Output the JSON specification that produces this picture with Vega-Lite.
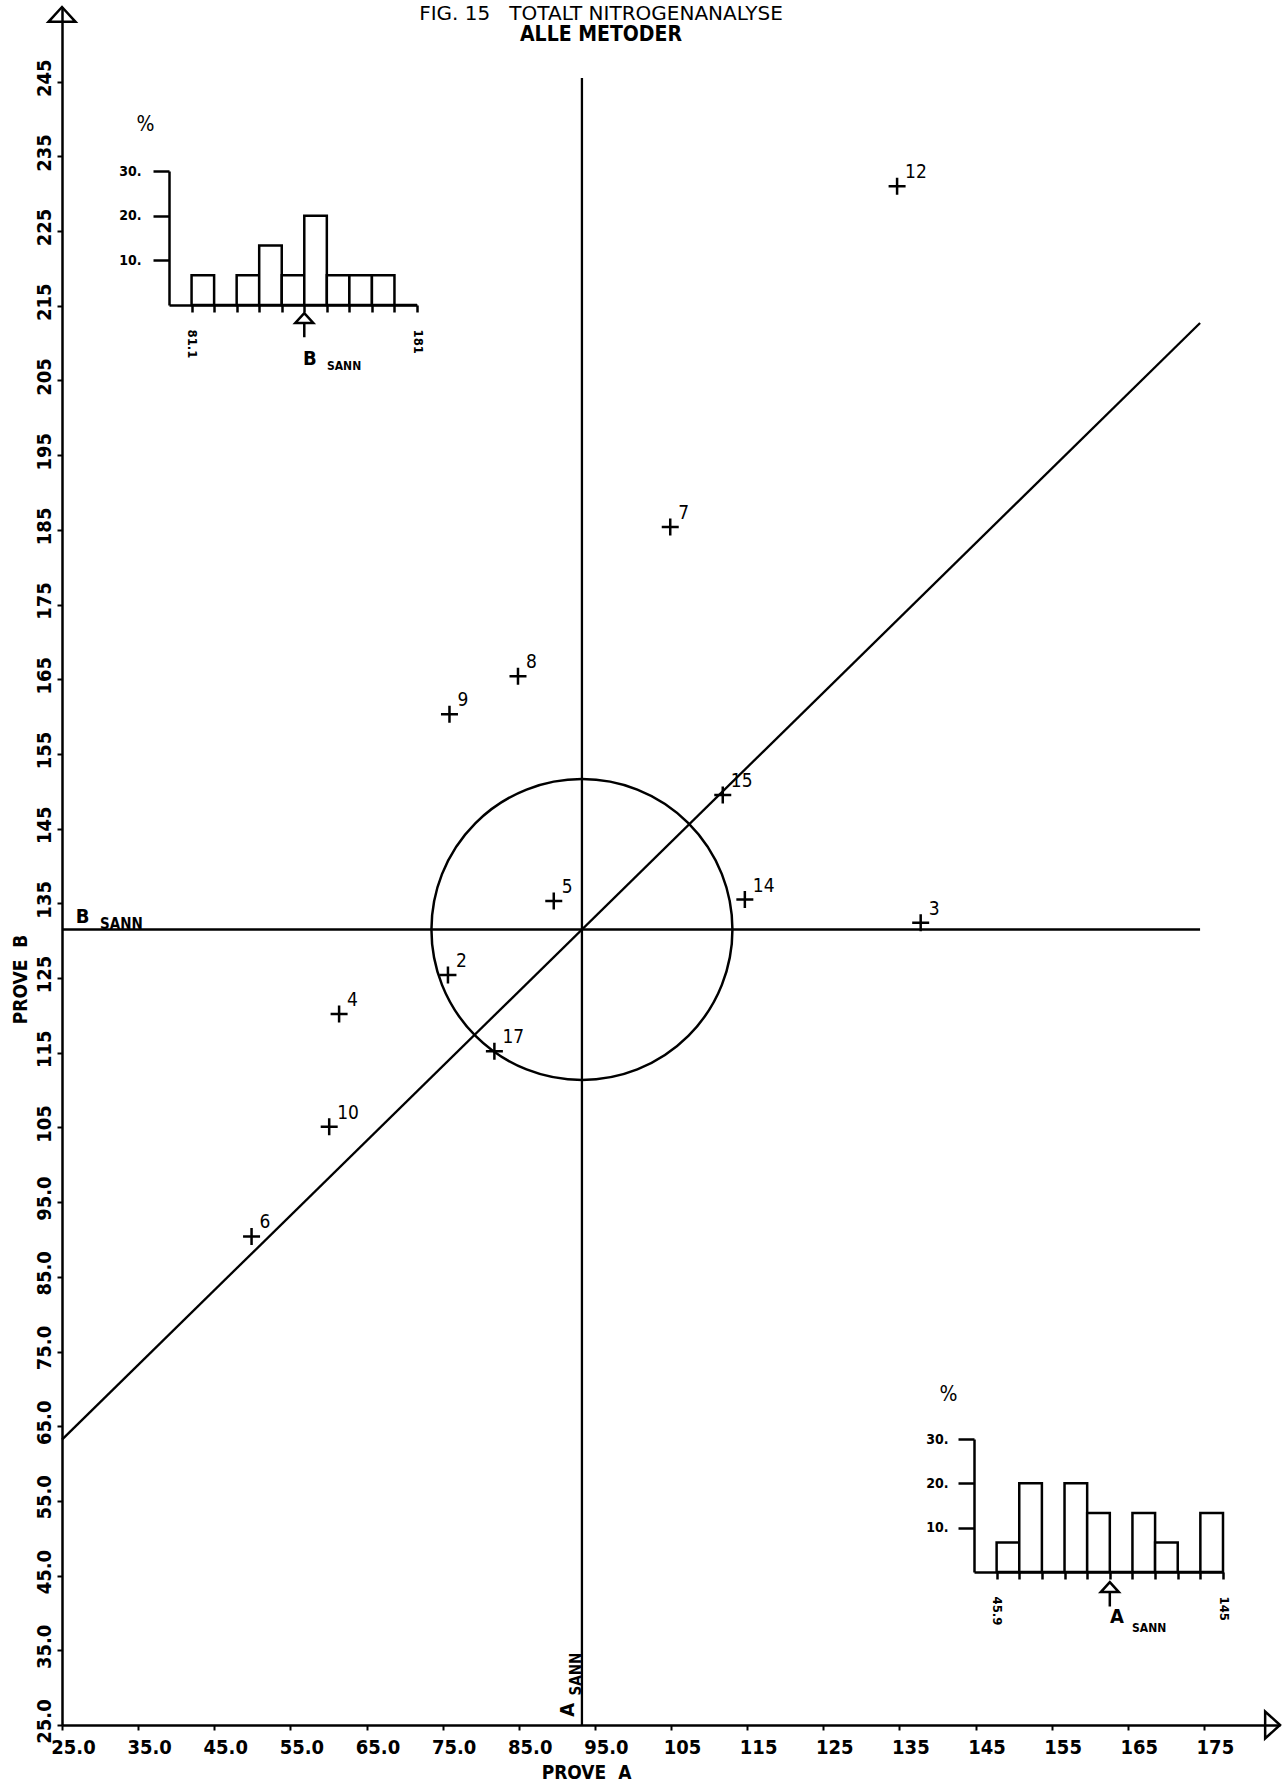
{
  "$schema": "https://vega.github.io/schema/vega-lite/v6.json",
  "width": 1218,
  "height": 1718,
  "autosize": {"type": "none"},
  "padding": {"left": 62, "top": 7, "right": 5, "bottom": 60},
  "background": "white",
  "config": {"view": {"stroke": null}, "font": "DejaVu Sans Condensed, DejaVu Sans, sans-serif"},
  "title": {
    "text": "FIG. 15\u00a0\u00a0\u00a0TOTALT NITROGENANALYSE",
    "subtitle": "ALLE METODER",
    "anchor": "middle",
    "offset": -43,
    "dx": -70,
    "font": "DejaVu Sans, sans-serif",
    "fontSize": 20,
    "fontWeight": "normal",
    "color": "black",
    "subtitleFont": "DejaVu Sans Condensed, DejaVu Sans, sans-serif",
    "subtitleFontSize": 21,
    "subtitleFontWeight": "bold",
    "subtitleColor": "black",
    "subtitlePadding": 0
  },
  "datasets": {
    "points": [
      {"lab": "12", "A": 134.7, "B": 231.0},
      {"lab": "7", "A": 104.9, "B": 185.4},
      {"lab": "8", "A": 84.9, "B": 165.4},
      {"lab": "9", "A": 75.9, "B": 160.3},
      {"lab": "15", "A": 111.8, "B": 149.5},
      {"lab": "5", "A": 89.6, "B": 135.3},
      {"lab": "14", "A": 114.7, "B": 135.5},
      {"lab": "3", "A": 137.8, "B": 132.4},
      {"lab": "2", "A": 75.7, "B": 125.4},
      {"lab": "4", "A": 61.4, "B": 120.2},
      {"lab": "17", "A": 81.8, "B": 115.2},
      {"lab": "10", "A": 60.1, "B": 105.1},
      {"lab": "6", "A": 49.9, "B": 90.4}
    ],
    "lines": [
      {"A": 93.3, "B": 25, "A2": 93.3, "B2": 245.5},
      {"A": 25, "B": 131.5, "A2": 174.5, "B2": 131.5},
      {"A": 25, "B": 63.2, "A2": 174.5, "B2": 212.7}
    ],
    "center": [{"A": 93.3, "B": 131.5}],
    "topEnd": [{"A": 25, "B": 255}],
    "rightEnd": [{"A": 185, "B": 25}],
    "bBig": [{"t": "B", "A": 26.8, "B": 132.4}],
    "bSmall": [{"t": "SANN", "A": 30.0, "B": 131.6}],
    "aBig": [{"t": "A", "A": 92.2, "B": 26.1}],
    "aSmall": [{"t": "SANN", "A": 93.2, "B": 28.95}],
    "histB": [
      {"lo": 81.1, "hi": 91.09, "pct": 6.67},
      {"lo": 91.09, "hi": 101.08, "pct": 0},
      {"lo": 101.08, "hi": 111.07, "pct": 6.67},
      {"lo": 111.07, "hi": 121.06, "pct": 13.33},
      {"lo": 121.06, "hi": 131.05, "pct": 6.67},
      {"lo": 131.05, "hi": 141.04, "pct": 20},
      {"lo": 141.04, "hi": 151.03, "pct": 6.67},
      {"lo": 151.03, "hi": 161.02, "pct": 6.67},
      {"lo": 161.02, "hi": 171.01, "pct": 6.67},
      {"lo": 171.01, "hi": 181, "pct": 0}
    ],
    "histA": [
      {"lo": 45.9, "hi": 55.81, "pct": 6.67},
      {"lo": 55.81, "hi": 65.72, "pct": 20},
      {"lo": 65.72, "hi": 75.63, "pct": 0},
      {"lo": 75.63, "hi": 85.54, "pct": 20},
      {"lo": 85.54, "hi": 95.45, "pct": 13.33},
      {"lo": 95.45, "hi": 105.36, "pct": 0},
      {"lo": 105.36, "hi": 115.27, "pct": 13.33},
      {"lo": 115.27, "hi": 125.18, "pct": 6.67},
      {"lo": 125.18, "hi": 135.09, "pct": 0},
      {"lo": 135.09, "hi": 145, "pct": 13.33}
    ],
    "arrowB": [{"lo": 131.05, "pct": -1.8}],
    "arrowA": [{"lo": 95.45, "pct": -2.3}],
    "labB": [{"t": "B", "lo": 130.5, "pct": -13.4}],
    "labBs": [{"t": "SANN", "lo": 141.1, "pct": -14.6}],
    "labA": [{"t": "A", "lo": 95.5, "pct": -11.5}],
    "labAs": [{"t": "SANN", "lo": 105.2, "pct": -13.5}]
  },
  "layer": [
    {
      "layer": [
        {
          "data": {"name": "lines"},
          "mark": {"type": "rule", "stroke": "black", "strokeWidth": 2.3},
          "encoding": {
            "x": {
              "field": "A", "type": "quantitative", "title": "PROVE\u00a0\u00a0A",
              "scale": {"domain": [25, 185], "nice": false, "zero": false},
              "axis": {
                "orient": "bottom",
                "values": [25, 35, 45, 55, 65, 75, 85, 95, 105, 115, 125, 135, 145, 155, 165, 175],
                "labelExpr": "datum.value < 100 ? format(datum.value, '.1f') : format(datum.value, 'd')",
                "labelOffset": 11, "labelPadding": 7, "labelBaseline": "top", "labelAlign": "center",
                "labelFontSize": 20, "labelFontWeight": "bold", "labelColor": "black",
                "labelOverlap": false, "labelFlush": false, "labelBound": false,
                "tickSize": 5, "tickWidth": 2, "tickColor": "black",
                "domainColor": "black", "domainWidth": 2.5, "grid": false,
                "title": "PROVE\u00a0\u00a0A", "titleX": 524, "titleY": 47, "titleAlign": "center", "titleBaseline": "middle",
                "titleFontSize": 19, "titleFontWeight": "bold", "titleColor": "black"
              }
            },
            "x2": {"field": "A2"},
            "y": {
              "field": "B", "type": "quantitative", "title": "PROVE\u00a0\u00a0B",
              "scale": {"domain": [25, 255], "nice": false, "zero": false},
              "axis": {
                "orient": "left",
                "values": [25, 35, 45, 55, 65, 75, 85, 95, 105, 115, 125, 135, 145, 155, 165, 175, 185, 195, 205, 215, 225, 235, 245],
                "labelExpr": "datum.value < 100 ? format(datum.value, '.1f') : format(datum.value, 'd')",
                "labelAngle": 270, "labelAlign": "center", "labelBaseline": "alphabetic",
                "labelOffset": -4, "labelPadding": 7,
                "labelFontSize": 20, "labelFontWeight": "bold", "labelColor": "black",
                "labelOverlap": false, "labelFlush": false, "labelBound": false,
                "tickSize": 5, "tickWidth": 2, "tickColor": "black",
                "domainColor": "black", "domainWidth": 2.5, "grid": false,
                "title": "PROVE\u00a0\u00a0B", "titleX": -42, "titleY": 972, "titleAngle": 270,
                "titleAlign": "center", "titleBaseline": "middle",
                "titleFontSize": 19, "titleFontWeight": "bold", "titleColor": "black"
              }
            },
            "y2": {"field": "B2"}
          }
        },
        {
          "data": {"name": "center"},
          "mark": {"type": "point", "shape": "circle", "filled": false, "stroke": "black", "strokeWidth": 2.5, "size": 90601, "opacity": 1},
          "encoding": {
            "x": {"field": "A", "type": "quantitative", "title": "PROVE\u00a0\u00a0A"},
            "y": {"field": "B", "type": "quantitative", "title": "PROVE\u00a0\u00a0B"}
          }
        },
        {
          "data": {"name": "points"},
          "mark": {"type": "point", "shape": "M-1,0L1,0M0,-1L0,1", "filled": false, "stroke": "black", "strokeWidth": 2.5, "size": 289, "opacity": 1},
          "encoding": {
            "x": {"field": "A", "type": "quantitative", "title": "PROVE\u00a0\u00a0A"},
            "y": {"field": "B", "type": "quantitative", "title": "PROVE\u00a0\u00a0B"}
          }
        },
        {
          "data": {"name": "points"},
          "mark": {"type": "text", "align": "left", "baseline": "alphabetic", "dx": 8, "dy": -8, "fontSize": 19, "color": "black"},
          "encoding": {
            "x": {"field": "A", "type": "quantitative", "title": "PROVE\u00a0\u00a0A"},
            "y": {"field": "B", "type": "quantitative", "title": "PROVE\u00a0\u00a0B"},
            "text": {"field": "lab"}
          }
        },
        {
          "data": {"name": "topEnd"},
          "mark": {"type": "point", "shape": "M0,0L1,1.1L-1,1.1Z", "filled": false, "stroke": "black", "strokeWidth": 2.5, "size": 729, "opacity": 1},
          "encoding": {
            "x": {"field": "A", "type": "quantitative", "title": "PROVE\u00a0\u00a0A"},
            "y": {"field": "B", "type": "quantitative", "title": "PROVE\u00a0\u00a0B"}
          }
        },
        {
          "data": {"name": "rightEnd"},
          "mark": {"type": "point", "shape": "M0,0L-1.1,-1L-1.1,1Z", "filled": false, "stroke": "black", "strokeWidth": 2.5, "size": 729, "opacity": 1},
          "encoding": {
            "x": {"field": "A", "type": "quantitative", "title": "PROVE\u00a0\u00a0A"},
            "y": {"field": "B", "type": "quantitative", "title": "PROVE\u00a0\u00a0B"}
          }
        },
        {
          "data": {"name": "bBig"},
          "mark": {"type": "text", "align": "left", "baseline": "alphabetic", "fontSize": 20, "fontWeight": "bold", "color": "black"},
          "encoding": {
            "x": {"field": "A", "type": "quantitative", "title": "PROVE\u00a0\u00a0A"},
            "y": {"field": "B", "type": "quantitative", "title": "PROVE\u00a0\u00a0B"},
            "text": {"field": "t"}
          }
        },
        {
          "data": {"name": "bSmall"},
          "mark": {"type": "text", "align": "left", "baseline": "alphabetic", "fontSize": 15, "fontWeight": "bold", "color": "black"},
          "encoding": {
            "x": {"field": "A", "type": "quantitative", "title": "PROVE\u00a0\u00a0A"},
            "y": {"field": "B", "type": "quantitative", "title": "PROVE\u00a0\u00a0B"},
            "text": {"field": "t"}
          }
        },
        {
          "data": {"name": "aBig"},
          "mark": {"type": "text", "align": "left", "baseline": "alphabetic", "angle": 270, "fontSize": 20, "fontWeight": "bold", "color": "black"},
          "encoding": {
            "x": {"field": "A", "type": "quantitative", "title": "PROVE\u00a0\u00a0A"},
            "y": {"field": "B", "type": "quantitative", "title": "PROVE\u00a0\u00a0B"},
            "text": {"field": "t"}
          }
        },
        {
          "data": {"name": "aSmall"},
          "mark": {"type": "text", "align": "left", "baseline": "alphabetic", "angle": 270, "fontSize": 15, "fontWeight": "bold", "color": "black"},
          "encoding": {
            "x": {"field": "A", "type": "quantitative", "title": "PROVE\u00a0\u00a0A"},
            "y": {"field": "B", "type": "quantitative", "title": "PROVE\u00a0\u00a0B"},
            "text": {"field": "t"}
          }
        }
      ]
    },
    {
      "layer": [
        {
          "data": {"name": "histB"},
          "mark": {"type": "rect", "fill": "white", "stroke": "black", "strokeWidth": 2.5},
          "encoding": {
            "x": {
              "field": "lo", "type": "quantitative",
              "scale": {"domain": [71.1, 181], "range": [107, 355], "nice": false, "zero": false},
              "axis": {
                "orient": "bottom", "offset": -1420, "title": null, "grid": false,
                "values": [81.1, 91.09, 101.08, 111.07, 121.06, 131.05, 141.04, 151.03, 161.02, 171.01, 181],
                "labelExpr": "datum.value == 81.1 ? '81.1' : (datum.value == 181 ? '181' : '')",
                "labelAngle": 90, "labelAlign": "left", "labelBaseline": "middle", "labelPadding": 17,
                "labelFontSize": 13, "labelFontWeight": "bold", "labelColor": "black",
                "labelOverlap": false, "labelFlush": false, "labelBound": false,
                "tickSize": 7, "tickWidth": 2.5, "tickColor": "black",
                "domainColor": "black", "domainWidth": 2.5
              }
            },
            "x2": {"field": "hi"},
            "y": {
              "field": "pct", "type": "quantitative",
              "scale": {"domain": [0, 30], "range": [298, 164], "nice": false, "zero": false},
              "axis": {
                "orient": "left", "offset": -107, "grid": false,
                "values": [10, 20, 30],
                "labelExpr": "datum.value + '.'",
                "labelAlign": "right", "labelBaseline": "middle", "labelPadding": 12,
                "labelFontSize": 14, "labelFontWeight": "bold", "labelColor": "black",
                "labelOverlap": false, "labelFlush": false, "labelBound": false,
                "tickSize": 16, "tickWidth": 2.5, "tickColor": "black",
                "domainColor": "black", "domainWidth": 2.5,
                "title": "%", "titleAngle": 0, "titleX": -24, "titleY": 123, "titleAlign": "center", "titleBaseline": "alphabetic",
                "titleFontSize": 21, "titleFontWeight": "normal", "titleColor": "black"
              }
            },
            "y2": {"datum": 0}
          }
        },
        {
          "data": {"name": "arrowB"},
          "mark": {"type": "point", "shape": "M0,0L1,1.1L-1,1.1ZM0,1.1L0,2.7", "filled": false, "stroke": "black", "strokeWidth": 2.5, "size": 324, "opacity": 1},
          "encoding": {
            "x": {"field": "lo", "type": "quantitative"},
            "y": {"field": "pct", "type": "quantitative"}
          }
        },
        {
          "data": {"name": "labB"},
          "mark": {"type": "text", "align": "left", "baseline": "alphabetic", "fontSize": 20, "fontWeight": "bold", "color": "black"},
          "encoding": {
            "x": {"field": "lo", "type": "quantitative"},
            "y": {"field": "pct", "type": "quantitative"},
            "text": {"field": "t"}
          }
        },
        {
          "data": {"name": "labBs"},
          "mark": {"type": "text", "align": "left", "baseline": "alphabetic", "fontSize": 12, "fontWeight": "bold", "color": "black"},
          "encoding": {
            "x": {"field": "lo", "type": "quantitative"},
            "y": {"field": "pct", "type": "quantitative"},
            "text": {"field": "t"}
          }
        }
      ]
    },
    {
      "layer": [
        {
          "data": {"name": "histA"},
          "mark": {"type": "rect", "fill": "white", "stroke": "black", "strokeWidth": 2.5},
          "encoding": {
            "x": {
              "field": "lo", "type": "quantitative",
              "scale": {"domain": [36, 145], "range": [912, 1161], "nice": false, "zero": false},
              "axis": {
                "orient": "bottom", "offset": -153, "title": null, "grid": false,
                "values": [45.9, 55.81, 65.72, 75.63, 85.54, 95.45, 105.36, 115.27, 125.18, 135.09, 145],
                "labelExpr": "datum.value == 45.9 ? '45.9' : (datum.value == 145 ? '145' : '')",
                "labelAngle": 90, "labelAlign": "left", "labelBaseline": "middle", "labelPadding": 17,
                "labelFontSize": 13, "labelFontWeight": "bold", "labelColor": "black",
                "labelOverlap": false, "labelFlush": false, "labelBound": false,
                "tickSize": 7, "tickWidth": 2.5, "tickColor": "black",
                "domainColor": "black", "domainWidth": 2.5
              }
            },
            "x2": {"field": "hi"},
            "y": {
              "field": "pct", "type": "quantitative",
              "scale": {"domain": [0, 30], "range": [1565, 1432], "nice": false, "zero": false},
              "axis": {
                "orient": "left", "offset": -912, "grid": false,
                "values": [10, 20, 30],
                "labelExpr": "datum.value + '.'",
                "labelAlign": "right", "labelBaseline": "middle", "labelPadding": 10,
                "labelFontSize": 14, "labelFontWeight": "bold", "labelColor": "black",
                "labelOverlap": false, "labelFlush": false, "labelBound": false,
                "tickSize": 16, "tickWidth": 2.5, "tickColor": "black",
                "domainColor": "black", "domainWidth": 2.5,
                "title": "%", "titleAngle": 0, "titleX": -26, "titleY": 1393, "titleAlign": "center", "titleBaseline": "alphabetic",
                "titleFontSize": 21, "titleFontWeight": "normal", "titleColor": "black"
              }
            },
            "y2": {"datum": 0}
          }
        },
        {
          "data": {"name": "arrowA"},
          "mark": {"type": "point", "shape": "M0,0L1,1.1L-1,1.1ZM0,1.1L0,2.7", "filled": false, "stroke": "black", "strokeWidth": 2.5, "size": 324, "opacity": 1},
          "encoding": {
            "x": {"field": "lo", "type": "quantitative"},
            "y": {"field": "pct", "type": "quantitative"}
          }
        },
        {
          "data": {"name": "labA"},
          "mark": {"type": "text", "align": "left", "baseline": "alphabetic", "fontSize": 20, "fontWeight": "bold", "color": "black"},
          "encoding": {
            "x": {"field": "lo", "type": "quantitative"},
            "y": {"field": "pct", "type": "quantitative"},
            "text": {"field": "t"}
          }
        },
        {
          "data": {"name": "labAs"},
          "mark": {"type": "text", "align": "left", "baseline": "alphabetic", "fontSize": 12, "fontWeight": "bold", "color": "black"},
          "encoding": {
            "x": {"field": "lo", "type": "quantitative"},
            "y": {"field": "pct", "type": "quantitative"},
            "text": {"field": "t"}
          }
        }
      ]
    }
  ],
  "resolve": {"scale": {"x": "independent", "y": "independent"}, "axis": {"x": "independent", "y": "independent"}}
}
